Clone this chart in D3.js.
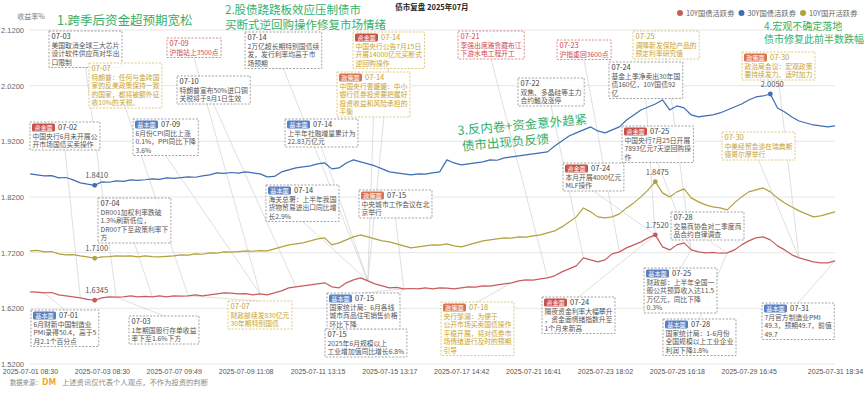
<!DOCTYPE html>
<html>
<head>
<meta charset="utf-8">
<script src="https://cdn.jsdelivr.net/npm/d3@7"></script>
<style>
  body { margin: 0; background: #fff; font-family: "Noto Sans CJK SC", "Noto Sans", sans-serif; }
</style>
</head>
<body>
<script>

var width = 865;
var height = 393;

// x axis: one point every ~1/5 trading day, labels every 10 points
var xLabels = ["2025-07-01 08:30", "2025-07-03 08:30", "2025-07-07 09:49", "2025-07-09 11:08",
  "2025-07-11 13:15", "2025-07-15 13:17", "2025-07-17 14:42", "2025-07-21 16:41",
  "2025-07-23 18:02", "2025-07-25 16:18", "2025-07-29 16:45", "2025-07-31 18:34"];
var xLabelIdx = [0, 10, 20, 30, 40, 50, 60, 70, 80, 90, 100, 112];
var tradeDays = ["07-01","07-02","07-03","07-04","07-07","07-08","07-09","07-10","07-11",
  "07-14","07-15","07-16","07-17","07-18","07-21","07-22","07-23","07-24","07-25",
  "07-28","07-29","07-30","07-31"];
var yTicks = [1.52, 1.62, 1.72, 1.82, 1.92, 2.02, 2.12];

var seriesNames = ["10Y国债活跃券", "30Y国债活跃券", "10Y国开活跃券"];

var cgb10 = [
  1.6496,1.6490,1.6478,1.6484,1.6442,1.6425,1.6407,1.6389,1.6360,1.6345,
  1.6389,1.6407,1.6400,1.6407,1.6425,1.6407,1.6415,1.6407,1.6425,1.6407,
  1.6425,1.6418,1.6425,1.6442,1.6425,1.6442,1.6460,1.6478,1.6472,1.6460,
  1.6465,1.6442,1.6460,1.6442,1.6478,1.6514,1.6568,1.6586,1.6604,1.6622,
  1.6640,1.6658,1.6586,1.6568,1.6658,1.6712,1.6748,1.6694,1.6640,1.6604,
  1.6568,1.6575,1.6550,1.6556,1.6550,1.6568,1.6550,1.6568,1.6562,1.6550,
  1.6568,1.6586,1.6580,1.6604,1.6598,1.6622,1.6640,1.6658,1.6694,1.6712,
  1.6706,1.6730,1.6748,1.6784,1.6855,1.6909,1.6963,1.7107,1.7071,1.7035,
  1.7071,1.7179,1.7214,1.7286,1.7340,1.7394,1.7466,1.7520,1.7304,1.7250,
  1.7340,1.7376,1.7250,1.7214,1.7197,1.7205,1.7190,1.7197,1.7250,1.7340,
  1.7412,1.7466,1.7484,1.7430,1.7322,1.7250,1.7161,1.7107,1.7071,1.7035,
  1.7017,1.7017,1.7053];

var cgb30 = [
  1.8615,1.8597,1.8579,1.8585,1.8543,1.8550,1.8507,1.8453,1.8430,1.8410,
  1.8471,1.8465,1.8489,1.8480,1.8507,1.8500,1.8510,1.8525,1.8518,1.8543,
  1.8535,1.8548,1.8561,1.8555,1.8579,1.8597,1.8633,1.8625,1.8640,1.8628,
  1.8651,1.8633,1.8615,1.8561,1.8570,1.8651,1.8687,1.8722,1.8740,1.8758,
  1.8794,1.8812,1.8705,1.8722,1.8812,1.8866,1.8830,1.8794,1.8758,1.8705,
  1.8651,1.8633,1.8615,1.8597,1.8615,1.8610,1.8633,1.8651,1.8866,1.8812,
  1.8776,1.8794,1.8812,1.8830,1.8866,1.8860,1.8902,1.8920,1.8938,1.8956,
  1.8974,1.8992,1.9010,1.9117,1.9207,1.9297,1.9351,1.9405,1.9459,1.9387,
  1.9351,1.9405,1.9459,1.9584,1.9674,1.9764,1.9818,1.9871,1.9943,1.9764,
  1.9836,1.9800,1.9674,1.9638,1.9656,1.9674,1.9710,1.9764,1.9818,1.9871,
  1.9943,1.9997,2.0015,2.0050,1.9800,1.9728,1.9638,1.9566,1.9530,1.9494,
  1.9477,1.9459,1.9477];

var cdb10 = [
  1.7232,1.7240,1.7214,1.7220,1.7179,1.7161,1.7165,1.7143,1.7125,1.7100,
  1.7125,1.7130,1.7143,1.7138,1.7143,1.7125,1.7143,1.7130,1.7125,1.7135,
  1.7143,1.7161,1.7155,1.7179,1.7172,1.7197,1.7190,1.7214,1.7208,1.7220,
  1.7232,1.7225,1.7238,1.7232,1.7268,1.7304,1.7340,1.7358,1.7376,1.7412,
  1.7448,1.7466,1.7340,1.7376,1.7430,1.7484,1.7520,1.7484,1.7448,1.7412,
  1.7394,1.7358,1.7322,1.7286,1.7304,1.7322,1.7340,1.7335,1.7358,1.7322,
  1.7304,1.7340,1.7376,1.7412,1.7430,1.7448,1.7466,1.7460,1.7484,1.7478,
  1.7502,1.7520,1.7556,1.7591,1.7663,1.7753,1.7843,1.8004,1.7933,1.7843,
  1.7825,1.7843,1.7897,1.8004,1.8094,1.8202,1.8328,1.8475,1.8274,1.8202,
  1.8292,1.8346,1.8184,1.8112,1.8058,1.8022,1.8004,1.7968,1.8094,1.8202,
  1.8292,1.8328,1.8363,1.8292,1.8184,1.8094,1.8022,1.7951,1.7897,1.7843,
  1.7861,1.7897,1.7933];

// annotations: date, tag, tone, text lines
var noteDates = ["07-03","07-09","07-07","07-10","07-14","07-14","07-14","07-21","07-23","07-22",
  "07-25","07-24","07-30","07-02","07-09","07-14","07-25","07-30","07-24","07-04",
  "07-14","07-15","07-28","07-07","07-01","07-03","07-15","07-15","07-18","07-24",
  "07-25","07-28","07-31"];
var noteTags = ["","","","","","资金面","政策面","","","",
  "","","政策面","资金面","基本面","基本面","资金面","","资金面","",
  "基本面","政策面","","","基本面","","基本面","","政策面","资金面",
  "基本面","基本面","基本面"];
var noteTones = ["gray","red","gold","gray","gray","gold","gold","red","red","gray",
  "gold","gray","gold","gray","gray","gray","gray","gold","gray","gray",
  "gray","gray","gray","gold","gray","gray","gray","gray","gold","gray",
  "gray","gray","gray"];
var noteTexts = [
  ["美国取消全球三大芯片","设计软件供应商对华出","口限制"],
  ["沪指站上3500点"],
  ["特朗普：任何与金砖国","家的反美政策保持一致","的国家，都将被额外征","收10%的关税。"],
  ["特朗普宣布50%进口铜","关税将于8月1日生效"],
  ["2万亿超长期特别国债续","发，发行利率均高于市","场预期"],
  ["中国央行公告7月15日","开展14000亿元买断式","逆回购操作"],
  ["中国央行曹媛媛：中小","银行债券投资要把握好","投资收益和风险承担的","平衡"],
  ["李强出席雅鲁藏布江","下游水电工程开工"],
  ["沪指重回3600点"],
  ["双焦、多晶硅等主力","合约触及涨停"],
  ["调降新发保险产品的","预定利率研究值"],
  ["基金上季净卖出30年国","债160亿，10Y国债92","亿"],
  ["政治局会议：宏观政策","要持续发力、适时加力"],
  ["中国央行6月未开展公","开市场国债买卖操作"],
  ["6月份CPI同比上涨","0.1%，PPI同比下降","3.6%"],
  ["上半年社融增量累计为","22.83万亿元"],
  ["中国央行7月25日开展","7893亿元7天逆回购操","作"],
  ["中美经贸会谈在瑞典斯","德哥尔摩举行"],
  ["本月开展4000亿元","MLF操作"],
  ["DR001加权利率跌破","1.3%刷新低位，","DR007下至政策利率下","方"],
  ["海关总署：上半年我国","货物贸易进出口同比增","长2.9%"],
  ["中央城市工作会议在北","京举行"],
  ["交易商协会对二季度商","品合约自律调查"],
  ["财政部续发830亿元","30年期特别国债"],
  ["6月财新中国制造业","PMI录得50.4，高于5","月2.1个百分点"],
  ["1年期国股行存单收益","率下至1.6%下方"],
  ["国家统计局：6月各线","城市商品住宅销售价格","环比下降"],
  ["2025年6月规模以上","工业增加值同比增长6.8%"],
  ["央行邹澜：为便于","公开市场买卖国债操作","平稳开展，将对债券市","场情绪进行及时的预期","引导"],
  ["隔夜资金利率大幅攀升","，资金面情绪指数升至","1个月来新高"],
  ["财政部：上半年全国一","般公共预算收入达11.5","万亿元，同比下降","0.3%"],
  ["国家统计局：1-6月份","全国规模以上工业企业","利润下降1.8%"],
  ["7月官方制造业PMI","49.3，预期49.7，前值","49.7"]
];

// layout only: top-left corner of each annotation box
var noteBox = [[49,31],[167,38],[89,63],[177,76],[245,32],[353,32],[337,72],[458,31],[557,40],[518,78],
  [633,31],[609,62],[742,52],[30,122],[133,119],[285,119],[622,126],[722,132],[563,163],[98,198],
  [266,185],[359,190],[671,212],[228,301],[31,310],[129,316],[327,293],[325,329],[441,302],[542,297],
  [644,268],[663,319],[762,303]];

var headings = [
  {lines: ["1.跨季后资金超预期宽松"], x: 57, y: 25, size: 12.5, rot: 0, gap: 0},
  {lines: ["2.股债跷跷板效应压制债市", "买断式逆回购操作修复市场情绪"], x: 225, y: 14, size: 11.5, rot: 0, gap: 14.5},
  {lines: ["3.反内卷+资金意外趋紧", "债市出现负反馈"], x: 458, y: 135, size: 12.5, rot: -5, gap: 16},
  {lines: ["4.宏观不确定落地", "债市修复此前半数跌幅"], x: 764, y: 29.5, size: 10, rot: 0, gap: 13.5}
];

var colors = ["#c75d5b", "#3e6db3", "#b3a13e"];
var tagColors = {"基本面": "#5a7fc0", "资金面": "#c8504b", "政策面": "#dc7150"};
var toneText = {gray: "#555", gold: "#c7a232", red: "#d0474b"};
var toneBorder = {gray: "#8c8c8c", gold: "#d8bc5f", red: "#d66a6a"};
var green = "#35b06a";

var svg = d3.select("body")
      .append("svg")
      .attr("width", width)
      .attr("height", height)
      .style("font-family", '"Noto Sans CJK SC", "Noto Sans", sans-serif');

var x = d3.scaleLinear().domain([0, cgb10.length - 1]).range([30, 835]);
var y = d3.scaleLinear().domain([1.52, 2.12]).range([364, 30]);

// grid
svg.append("g").selectAll("line")
  .data(yTicks)
  .enter().append("line")
  .attr("x1", 30).attr("x2", 835)
  .attr("y1", function(d) { return y(d); })
  .attr("y2", function(d) { return y(d); })
  .attr("stroke", "#e6e6e6")
  .attr("stroke-width", 1);

// y axis
var yAxis = svg.append("g")
  .attr("transform", "translate(27,0)")
  .call(d3.axisLeft(y).tickValues(yTicks).tickFormat(d3.format(".4f")).tickSize(0));
yAxis.select(".domain").remove();
yAxis.selectAll("text").attr("fill", "#666").style("font-size", "7.5px").attr("dx", 0);

svg.append("text")
  .attr("x", 31).attr("y", 19)
  .attr("text-anchor", "middle")
  .attr("fill", "#777")
  .style("font-size", "7px")
  .text("收益率%");

// x axis
var xAxis = svg.append("g")
  .attr("transform", "translate(0,364)")
  .call(d3.axisBottom(x).tickValues(xLabelIdx)
    .tickFormat(function(d, i) { return xLabels[i]; }).tickSize(0));
xAxis.select(".domain").remove();
xAxis.selectAll("text").attr("fill", "#555").style("font-size", "7px").attr("dy", "1.05em");

// leader lines from boxes to 10Y points
var series = [cgb10, cgb30, cdb10];
var leaderG = svg.append("g");
var lineG = svg.append("g");
var noteG = svg.append("g");

var line = d3.line()
  .x(function(d, i) { return x(i); })
  .y(function(d) { return y(d); });

lineG.selectAll("path.series")
  .data(series)
  .enter().append("path")
  .attr("class", "series")
  .attr("fill", "none")
  .attr("stroke", function(d, i) { return colors[i]; })
  .attr("stroke-width", 1.2)
  .attr("stroke-linejoin", "round")
  .attr("d", line);

// extreme points
series.forEach(function(s, k) {
  [d3.minIndex(s), d3.maxIndex(s)].forEach(function(idx) {
    lineG.append("circle")
      .attr("cx", x(idx)).attr("cy", y(s[idx]))
      .attr("r", 2.4)
      .attr("fill", colors[k]);
    lineG.append("text")
      .attr("x", x(idx) + 2).attr("y", y(s[idx]) - 7)
      .attr("text-anchor", "middle")
      .attr("fill", "#555")
      .style("font-size", "7.5px")
      .text(d3.format(".4f")(s[idx]));
  });
});

// annotation boxes
var fs = 6.8, lh = 8.5;
noteTexts.forEach(function(lines, i) {
  var bx = noteBox[i][0], by = noteBox[i][1];
  var tone = noteTones[i];
  var g = noteG.append("g").attr("transform", "translate(" + bx + "," + by + ")");
  var rect = g.append("rect");
  var head = g.append("g");
  var hx = 2.5;
  if (noteTags[i]) {
    head.append("rect")
      .attr("x", 2).attr("y", 1.5)
      .attr("width", 23).attr("height", 8)
      .attr("rx", 1.5)
      .attr("fill", tagColors[noteTags[i]]);
    head.append("text")
      .attr("x", 13.5).attr("y", 8.2)
      .attr("text-anchor", "middle")
      .attr("fill", "#fff")
      .style("font-size", "6.2px")
      .text(noteTags[i]);
    hx = 28;
  }
  head.append("text")
    .attr("x", hx).attr("y", 8.4)
    .attr("fill", tone == "gray" ? "#444" : toneText[tone])
    .style("font-size", "7.5px")
    .text(noteDates[i]);
  var maxW = 0;
  lines.forEach(function(t, j) {
    var tx = g.append("text")
      .attr("x", 2.5).attr("y", 8.4 + lh * (j + 1))
      .attr("fill", toneText[tone])
      .style("font-size", fs + "px")
      .text(t);
    maxW = Math.max(maxW, tx.node().getComputedTextLength());
  });
  var w = Math.max(maxW + 5, hx + 24);
  var h = lh * (lines.length + 1) + 2.5;
  rect.attr("width", w).attr("height", h)
    .attr("fill", "#fff").attr("fill-opacity", 0.82)
    .attr("stroke", toneBorder[tone])
    .attr("stroke-width", 0.8)
    .attr("stroke-dasharray", "2,1.5");

  // leader line
  var idx = tradeDays.indexOf(noteDates[i]) * 5 + 2;
  var px = x(idx), py = y(cgb10[idx]);
  var sx = bx + w / 2;
  var sy = (by + h / 2 < py) ? by + h : by;
  leaderG.append("line")
    .attr("x1", sx).attr("y1", sy)
    .attr("x2", px).attr("y2", py)
    .attr("stroke", "#c9c9c9")
    .attr("stroke-width", 0.6);
});

// green headings
headings.forEach(function(hd) {
  var t = svg.append("text")
    .attr("transform", "rotate(" + hd.rot + "," + hd.x + "," + hd.y + ")")
    .attr("fill", green)
    .style("font-size", hd.size + "px");
  hd.lines.forEach(function(s, j) {
    t.append("tspan")
      .attr("x", hd.x + (hd.rot ? j * 3 : 0))
      .attr("y", hd.y + j * hd.gap)
      .text(s);
  });
});

// title
svg.append("text")
  .attr("x", 432).attr("y", 10)
  .attr("text-anchor", "middle")
  .attr("fill", "#222")
  .style("font-size", "7.5px")
  .style("font-weight", "bold")
  .text("债市复盘 2025年07月");

// legend
var legend = svg.append("g").selectAll("g")
  .data(seriesNames)
  .enter().append("g")
  .attr("transform", function(d, i) { return "translate(" + (680 + i * 61.5) + ",13)"; });
legend.append("circle").attr("r", 3).attr("fill", function(d, i) { return colors[i]; });
legend.append("text")
  .attr("x", 6).attr("y", 2.7)
  .attr("fill", "#666")
  .style("font-size", "7.3px")
  .text(function(d) { return d; });

// footer
var foot = svg.append("g").attr("transform", "translate(10,385)");
foot.append("text").attr("fill", "#888").style("font-size", "6.3px").text("数据来源：");
foot.append("text").attr("x", 32).attr("fill", "#f0a020")
  .style("font-size", "9px").style("font-weight", "bold").text("DM");
foot.append("text").attr("x", 52).attr("fill", "#888").style("font-size", "7.3px")
  .text("上述资讯仅代表个人观点，不作为投资的判断");

</script>
</body>
</html>
